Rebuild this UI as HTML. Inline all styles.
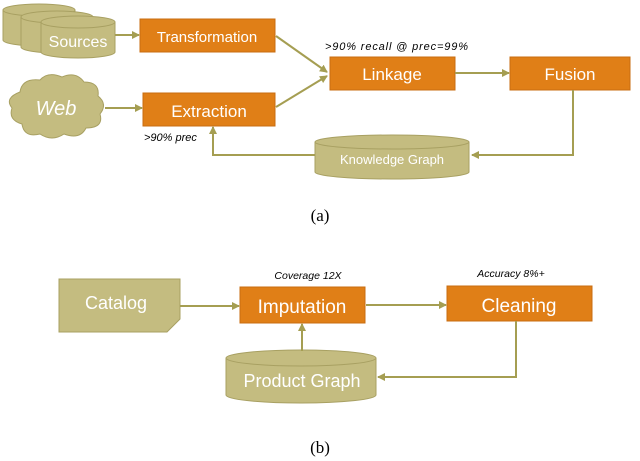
<!DOCTYPE html>
<html><head><style>body{margin:0;background:#fff}svg{display:block}</style></head><body>
<svg width="640" height="461" viewBox="0 0 640 461" xmlns="http://www.w3.org/2000/svg" font-family="Liberation Sans, sans-serif">
<defs><marker id="a" markerWidth="8" markerHeight="8" refX="7" refY="4" orient="auto" markerUnits="userSpaceOnUse"><path d="M0,0 L8,4 L0,8 z" fill="#A59E52"/></marker></defs>
<g fill="#C4BC80" stroke="#A8A062" stroke-width="1">
<path d="M3,10 v30 a36,6 0 0 0 72,0 v-30"/><ellipse cx="39" cy="10" rx="36" ry="6"/>
<path d="M21,17 v30 a36,6 0 0 0 72,0 v-30"/><ellipse cx="57" cy="17" rx="36" ry="6"/>
<path d="M41,22 v30 a37,6 0 0 0 74,0 v-30"/><ellipse cx="78" cy="22" rx="37" ry="6"/>
<path d="M20,92 q2,-14 20,-12 q8,-9 22,-3 q14,-6 22,5 q16,0 14,14 q10,8 2,18 q4,14 -14,14 q-6,12 -22,6 q-12,8 -24,0 q-16,4 -18,-10 q-14,-4 -10,-16 q-8,-10 8,-16 z"/>
<path d="M315,142 v30 a77,7 0 0 0 154,0 v-30"/><ellipse cx="392" cy="142" rx="77" ry="7"/>
<path d="M59,279 h121 v40 l-13,13 h-108 z"/>
<path d="M226,358 v37 a75,8 0 0 0 150,0 v-37"/><ellipse cx="301" cy="358" rx="75" ry="8"/>
</g>
<g fill="#E07F17" stroke="#C86C10" stroke-width="1">
<rect x="140" y="19" width="135" height="33"/>
<rect x="143" y="93" width="132" height="33"/>
<rect x="330" y="57" width="125" height="33"/>
<rect x="510" y="57" width="120" height="33"/>
<rect x="240" y="287" width="125" height="36"/>
<rect x="447" y="286" width="145" height="35"/>
</g>
<g stroke="#A59E52" stroke-width="2" fill="none" marker-end="url(#a)">
<path d="M115,35 H139"/>
<path d="M105,108 H142"/>
<path d="M276,36 L327,72"/>
<path d="M276,107 L327,76"/>
<path d="M455,73 H509"/>
<path d="M573,90 V155 H472"/>
<path d="M315,155 H213 V127"/>
<path d="M180,306 H239"/>
<path d="M366,305 H446"/>
<path d="M516,321 V377 H378"/>
<path d="M302,351 V324"/>
</g>
<g fill="#fff" text-anchor="middle">
<text x="78" y="47" font-size="16">Sources</text>
<text x="207" y="42" font-size="15">Transformation</text>
<text x="56" y="115" font-size="20" font-style="italic">Web</text>
<text x="209" y="117" font-size="17">Extraction</text>
<text x="392" y="80" font-size="17">Linkage</text>
<text x="570" y="80" font-size="17">Fusion</text>
<text x="392" y="164" font-size="13">Knowledge Graph</text>
<text x="116" y="309" font-size="18">Catalog</text>
<text x="302" y="313" font-size="19">Imputation</text>
<text x="519" y="312" font-size="19">Cleaning</text>
<text x="302" y="387" font-size="18">Product Graph</text>
</g>
<g fill="#000" font-style="italic">
<text x="325" y="50" font-size="11" textLength="143">&gt;90% recall @ prec=99%</text>
<text x="144" y="141" font-size="11">&gt;90% prec</text>
<text x="308" y="279" text-anchor="middle" font-size="10.5">Coverage 12X</text>
<text x="511" y="277" text-anchor="middle" font-size="10.5">Accuracy 8%+</text>
</g>
<g font-family="Liberation Serif, serif" font-size="17" text-anchor="middle" fill="#000">
<text x="320" y="221">(a)</text>
<text x="320" y="453">(b)</text>
</g>
</svg>
</body></html>
